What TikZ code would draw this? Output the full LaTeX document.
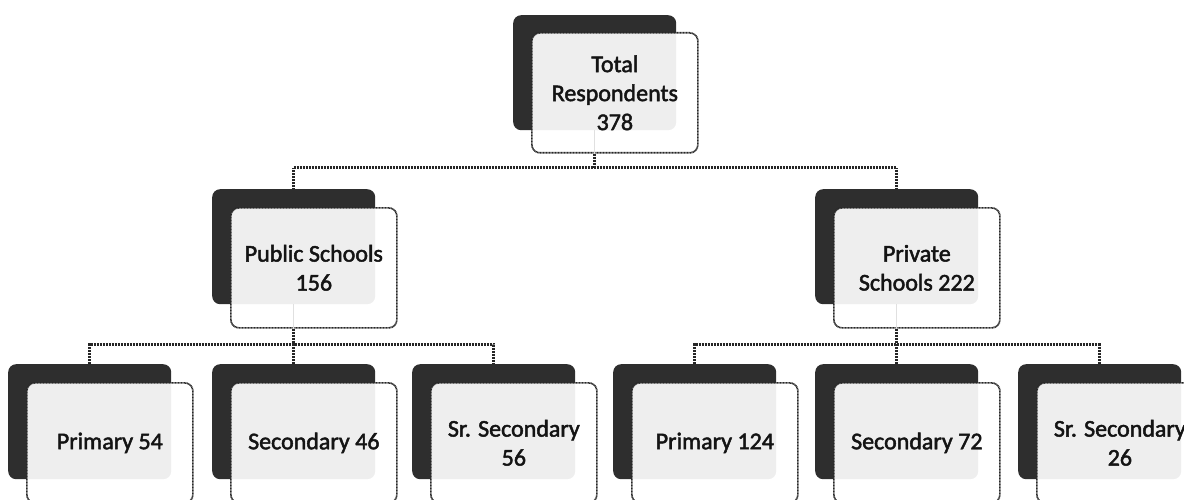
\documentclass[tikz,border=0pt]{standalone}
\usepackage{fontspec}
\setmainfont{Carlito}[FakeBold=2]
\pgfdeclarelayer{background}
\pgfsetlayers{background,main}
\begin{document}
\begin{tikzpicture}[x=1pt,y=-1pt,
  darkbox/.style={draw=none, fill=black!82, rounded corners=8pt, minimum width=163pt, minimum height=115pt, inner sep=0pt, anchor=north west},
  whitebox/.style={draw=black!85, line width=1.7pt, dash pattern=on 1pt off 0.5pt, fill=white, fill opacity=0.92, draw opacity=1, text opacity=1, rounded corners=8pt, minimum width=166pt, minimum height=120pt, inner sep=0pt, align=center, font=\fontsize{24}{29}\selectfont, text=black!92, anchor=north west},
  conn/.style={draw=black!85, line width=3pt, dash pattern=on 1pt off 0.5pt},
  faint/.style={draw=black!12, line width=1pt}]
\path[use as bounding box, clip] (0,0) rectangle (1184,500);
% top
\node[darkbox] (top-d) at (513,15) {};
\node[whitebox] (top) at (531,32) {Total\\Respondents\\378};
% level 2
\node[darkbox] (pub-d) at (212,189) {};
\node[whitebox] (pub) at (230,207) {Public Schools\\156};
\node[darkbox] (priv-d) at (815,189) {};
\node[whitebox] (priv) at (833,207) {Private\\Schools 222};
% level 3
\node[darkbox] (p1-d) at (8,364) {};
\node[whitebox] (p1) at (26,382) {Primary 54};
\node[darkbox] (p2-d) at (212,364) {};
\node[whitebox] (p2) at (230,382) {Secondary 46};
\node[darkbox] (p3-d) at (412,364) {};
\node[whitebox] (p3) at (430,382) {Sr. Secondary\\56};
\node[darkbox] (q1-d) at (613,364) {};
\node[whitebox] (q1) at (631,382) {Primary 124};
\node[darkbox] (q2-d) at (815,364) {};
\node[whitebox] (q2) at (833,382) {Secondary 72};
\node[darkbox] (q3-d) at (1018,364) {};
\node[whitebox] (q3) at (1036,382) {Sr. Secondary\\26};
% faint lines seen through the boxes
\draw[faint] (top-d.south) -- (top-d.south |- top.south);
\draw[faint] (pub-d.south) -- (pub-d.south |- pub.south);
\draw[faint] (priv-d.south) -- (priv-d.south |- priv.south);
% connectors
\begin{pgfonlayer}{background}
\coordinate (b1) at (top-d.center |- 0,168);
\draw[conn] (top-d.south |- top.south) -- (b1);
\draw[conn] (pub-d.north) |- (b1) -| (priv-d.north);
\coordinate (b2) at (pub-d.center |- 0,344);
\draw[conn] (pub-d.south |- pub.south) -- (b2);
\draw[conn] (p1-d.north) |- (b2) -| (p3-d.north);
\draw[conn] (p2-d.north) -- (b2);
\coordinate (b3) at (priv-d.center |- 0,344);
\draw[conn] (priv-d.south |- priv.south) -- (b3);
\draw[conn] (q1-d.north) |- (b3) -| (q3-d.north);
\draw[conn] (q2-d.north) -- (b3);
\end{pgfonlayer}
\end{tikzpicture}
\end{document}
